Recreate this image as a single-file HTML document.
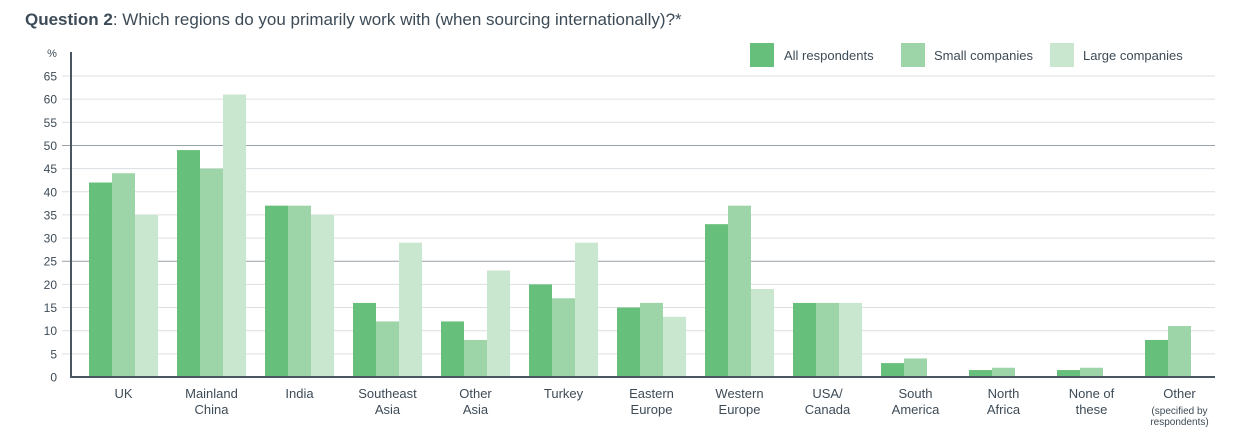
<!DOCTYPE html>
<html><head><meta charset="utf-8"><style>
body{margin:0;width:1252px;height:430px;background:#fff;font-family:"Liberation Sans",sans-serif;overflow:hidden}
text{font-family:"Liberation Sans",sans-serif}
</style></head><body>
<svg id="c" width="1252" height="430">
<text x="25" y="25" font-size="17" fill="#3d4b57"><tspan font-weight="bold">Question 2</tspan>: Which regions do you primarily work with (when sourcing internationally)?*</text>
<text x="52" y="57" font-size="11" fill="#3d4b57" text-anchor="middle">%</text>
<g id="grid"></g><g id="bars"></g><g id="xl"></g>
<line x1="71" y1="52" x2="71" y2="378" stroke="#4a5661" stroke-width="2"/>
<line x1="71" y1="377" x2="1215" y2="377" stroke="#4a5661" stroke-width="2"/>
<g>
<rect x="750" y="43" width="24" height="24" fill="#66bf7a"/>
<text x="784" y="60" font-size="13" fill="#3d4b57">All respondents</text>
<rect x="901" y="43" width="24" height="24" fill="#9dd4a8"/>
<text x="934" y="60" font-size="13" fill="#3d4b57">Small companies</text>
<rect x="1050" y="43" width="24" height="24" fill="#c9e6cf"/>
<text x="1083" y="60" font-size="13" fill="#3d4b57">Large companies</text>
</g>
</svg>
<script>
const categories=[["UK"],["Mainland","China"],["India"],["Southeast","Asia"],["Other","Asia"],["Turkey"],["Eastern","Europe"],["Western","Europe"],["USA/","Canada"],["South","America"],["North","Africa"],["None of","these"],["Other","(specified by","respondents)"]];
const allResp=[42,49,37,16,12,20,15,33,16,3,1.5,1.5,8];
const small=[44,45,37,12,8,17,16,37,16,4,2,2,11];
const large=[35,61,35,29,23,29,13,19,16,null,null,null,null];
const yTicks=[0,5,10,15,20,25,30,35,40,45,50,55,60,65];
const NS="http://www.w3.org/2000/svg";
const y=v=>377-v*(301/65);
const gx=i=>89+88*i;
const BW=23;
function mk(t,a,p){const e=document.createElementNS(NS,t);for(const k in a)e.setAttribute(k,a[k]);p.appendChild(e);return e;}
const grid=document.getElementById('grid');
yTicks.forEach(t=>{
  if(t>0){const l=mk('line',{x1:62,x2:1215,y1:y(t),y2:y(t),stroke:(t%25===0)?'#9aa1a7':'#dcdfe2','stroke-width':1},grid);
  
  }
  const tx=mk('text',{x:57,y:y(t)+4.5,'font-size':12,fill:'#3d4b57','text-anchor':'end'},grid);
  tx.textContent=t;
  
  
});
const bars=document.getElementById('bars');
const series=[[allResp,'#66bf7a','all'],[small,'#9dd4a8','small'],[large,'#c9e6cf','large']];
categories.forEach((c,i)=>{
  series.forEach((s,j)=>{
    const v=s[0][i]; if(v==null)return;
    const r=mk('rect',{x:gx(i)+j*BW,y:y(v),width:BW,height:377-y(v),fill:s[1]},bars);
    
    
  });
  const cx=gx(i)+BW*1.5;
  const g=document.getElementById('xl');
  c.forEach((ln,k)=>{
    const small=k>0&&c.length===3;
    const t=mk('text',{x:cx,y:small?(403+k*11):(398+k*16),'font-size':small?10:13,fill:'#3d4b57','text-anchor':'middle'},g);
    t.textContent=ln;
    
    
  });
});
</script>
</body></html>
